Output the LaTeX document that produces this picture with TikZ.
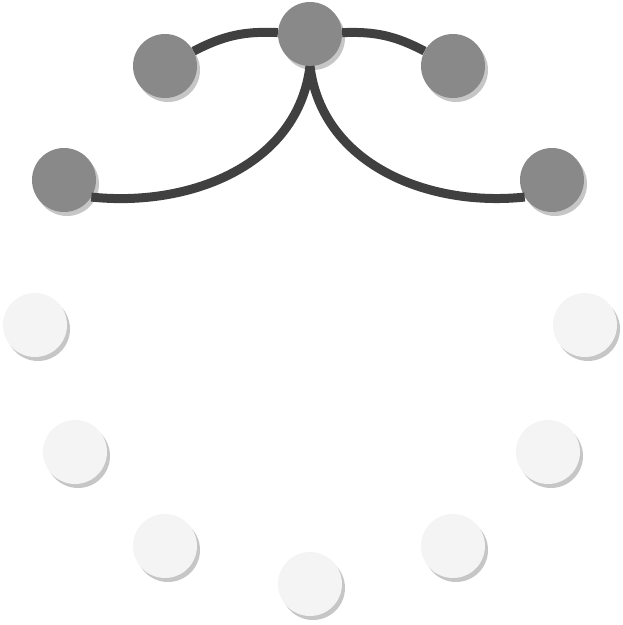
\documentclass[tikz,border=0pt]{standalone}
\usepackage{tikz}
\usetikzlibrary{shadows}
\definecolor{balldark}{RGB}{137,137,137}
\definecolor{balllight}{RGB}{244,244,244}
\definecolor{ballshade}{RGB}{198,198,198}
\definecolor{linkgray}{RGB}{64,64,64}

\tikzset{
  ball/.style={circle, minimum size=64pt, inner sep=0pt,
    drop shadow={shadow xshift=3pt, shadow yshift=-4pt, fill=ballshade, opacity=1}},
  on/.style={ball, fill=balldark},
  off/.style={ball, fill=balllight},
  link/.style={draw=linkgray, line width=9pt}
}

\begin{document}
\begin{tikzpicture}[x=1pt,y=1pt]
        \useasboundingbox (0,0) rectangle (623,625);

        % lit points
        \node[on] (top) at (310,591) {};
        \node[on] (tl) at (165,559) {};
        \node[on] (tr) at (453,559) {};
        \node[on] (ml) at (64,445) {};
        \node[on] (mr) at (552,445) {};

        % unlit points
        \node[off] (la) at (35,300) {};
        \node[off] (ra) at (585,300) {};
        \node[off] (lb) at (75,173) {};
        \node[off] (rb) at (548,173) {};
        \node[off] (lc) at (165,79) {};
        \node[off] (rc) at (453,79) {};
        \node[off] (bot) at (310,41) {};

        \draw[link] (tl) to[bend left=15] (top);
        \draw[link] (top) to[bend left=15] (tr);
        \draw[link] (top.south) to[out=-97,in=-6] (ml.-32);
        \draw[link] (top.south) to[out=-83,in=186] (mr.212);
\end{tikzpicture}
\end{document}
